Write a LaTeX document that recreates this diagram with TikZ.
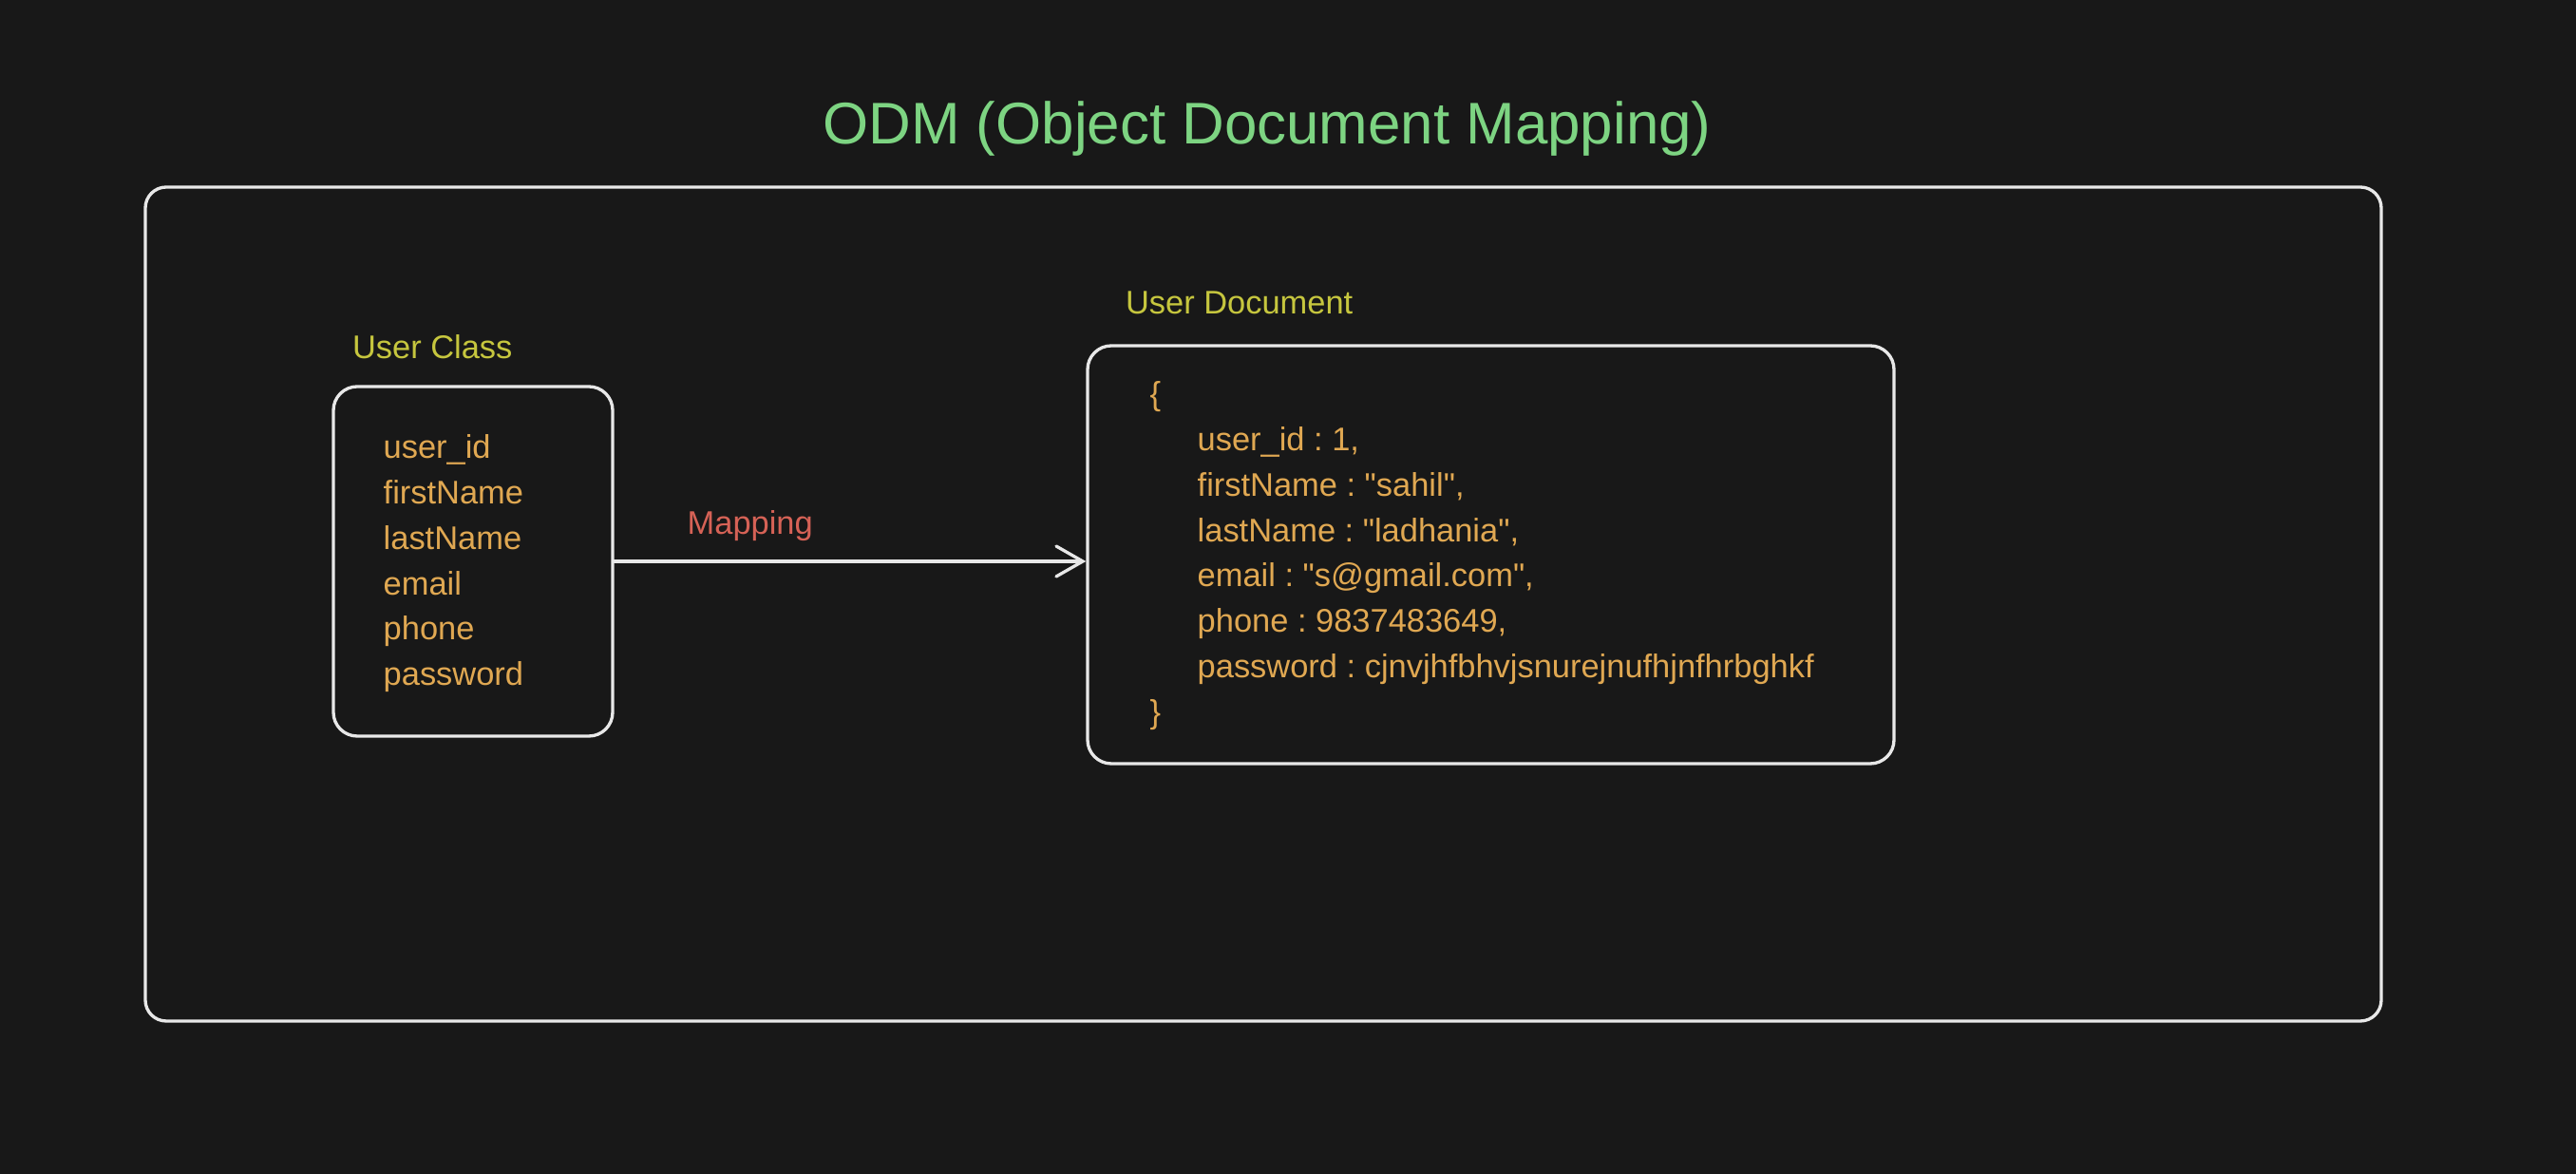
\documentclass[tikz,border=0pt]{standalone}
\usepackage{fontspec}
\setmainfont{Liberation Sans}[Ligatures=TeXOff]
\usetikzlibrary{arrows.meta,positioning}
\frenchspacing

\definecolor{bgdark}{RGB}{24,24,24}
\definecolor{penwhite}{RGB}{232,232,232}
\definecolor{titlegreen}{RGB}{125,212,130}
\definecolor{labelyellow}{RGB}{198,198,62}
\definecolor{fieldorange}{RGB}{224,168,82}
\definecolor{maplabelred}{RGB}{214,98,86}

\tikzset{
  box/.style={draw=penwhite, line width=0.95pt, rounded corners=0.25cm, inner sep=0pt},
  boxlabel/.style={text=labelyellow, font=\fontsize{9.8}{12}\selectfont, inner sep=0pt},
  fields/.style={text=fieldorange, font=\fontsize{9.8}{13.6}\selectfont, align=left, inner sep=0pt, anchor=north west},
  maparrow/.style={draw=penwhite, line width=0.95pt, line cap=round, -{Straight Barb[length=0.28cm,width=0.32cm,line cap=round]}}
}

\begin{document}
\begin{tikzpicture}
\useasboundingbox[fill=bgdark] (0,0) rectangle (27.12,12.36);

% title and outer frame
\node (title) [text=titlegreen, font=\fontsize{17.6}{20}\selectfont, anchor=base, inner sep=0pt] at (13.34,10.84) {ODM (Object Document Mapping)};
\node (frame) [box, rounded corners=0.22cm, minimum width=23.54cm, minimum height=8.78cm] at (13.30,6.00) {};

% user class
\node (classbox) [box, minimum width=2.94cm, minimum height=3.68cm] at (4.98,6.45) {};
\node (classlabel) [boxlabel, above right=0.27cm and 0.21cm of classbox.north west] {User Class};
\node (classfields) [fields] at (4.03,7.79) {user\_id\\firstName\\lastName\\email\\phone\\password};

% user document
\node (docbox) [box, minimum width=8.49cm, minimum height=4.40cm] at (15.695,6.52) {};
\node (doclabel) [boxlabel, above right=0.31cm and 0.41cm of docbox.north west] {User Document};
\node (docfields) [fields] at (12.10,8.35) {\{\\
\hspace*{0.5cm}user\_id : 1,\\
\hspace*{0.5cm}firstName : "sahil",\\
\hspace*{0.5cm}lastName : "ladhania",\\
\hspace*{0.5cm}email : "s@gmail.com",\\
\hspace*{0.5cm}phone : 9837483649,\\
\hspace*{0.5cm}password : cjnvjhfbhvjsnurejnufhjnfhrbghkf\\
\}};

% mapping arrow
\draw[maparrow] (classbox.east) -- (classbox.east -| docbox.west);
\node (maplabel) [text=maplabelred, font=\fontsize{9.8}{12}\selectfont, anchor=base west, inner sep=0pt] at (7.23,6.73) {Mapping};
\end{tikzpicture}
\end{document}
